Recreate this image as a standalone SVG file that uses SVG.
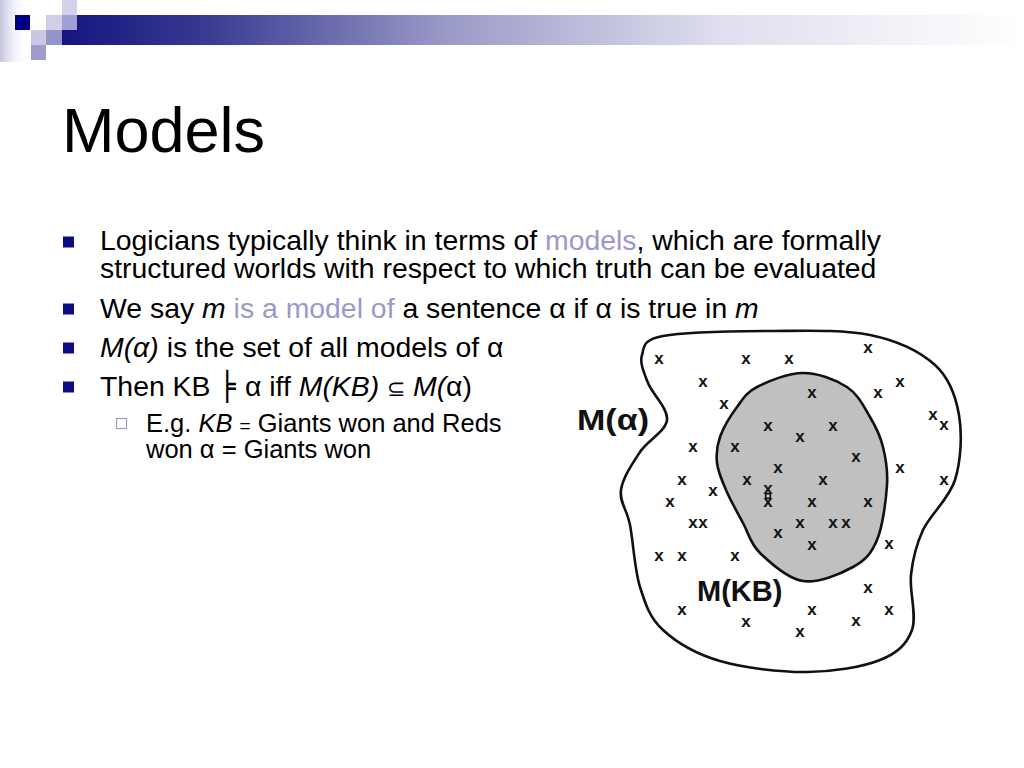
<svg xmlns="http://www.w3.org/2000/svg" width="1024" height="768" viewBox="0 0 1024 768">
<defs>
<linearGradient id="barG" x1="62" y1="0" x2="1024" y2="0" gradientUnits="userSpaceOnUse">
<stop offset="0" stop-color="#14147e"/>
<stop offset="0.15" stop-color="#3a3a92"/>
<stop offset="0.4" stop-color="#9a9ac8"/>
<stop offset="0.68" stop-color="#dedeee"/>
<stop offset="1" stop-color="#ffffff"/>
</linearGradient>
<linearGradient id="stripG" x1="0" y1="0" x2="1" y2="0">
<stop offset="0" stop-color="#c4c4e2"/>
<stop offset="1" stop-color="#ffffff" stop-opacity="0"/>
</linearGradient>
<style>
.t{font-family:"Liberation Sans",Arial,sans-serif;fill:#000}
.b{font-size:28.4px}
.s{font-size:25.5px}
.hl{fill:#9999cc}
.i{font-style:italic}
.bul{fill:#0c0c80}
.xm text{font-family:"Liberation Sans",Arial,sans-serif;font-weight:bold;font-size:17px;fill:#111;text-anchor:middle}
.lbl{font-family:"Liberation Sans",Arial,sans-serif;font-weight:bold;font-size:29px;fill:#111}
.set{stroke:#111;stroke-width:2.6;stroke-linejoin:round}
</style>
</defs>
<rect width="1024" height="768" fill="#fff"/>
<g id="decoration">
<rect x="0" y="0" width="28" height="62" fill="url(#stripG)"/>
<rect x="62" y="15" width="962" height="30" fill="url(#barG)"/>
<rect x="62" y="0" width="15" height="15" fill="#d2d2ea"/>
<rect x="15" y="15" width="15" height="15" fill="#000080"/>
<rect x="46" y="15" width="16" height="15" fill="#cfcfe7"/>
<rect x="62" y="15" width="15" height="15" fill="#a0a0d2"/>
<rect x="31" y="30" width="15" height="15" fill="#c8c8e4"/>
<rect x="46" y="30" width="16" height="15" fill="#9494c8"/>
<rect x="31" y="45" width="15" height="15" fill="#9c9cce"/>
</g>
<g id="title">
<text class="t" x="62" y="152" font-size="63">Models</text>
</g>
<g id="bullets">
<rect class="bul" x="63" y="236.5" width="11" height="11"/>
<rect class="bul" x="63" y="303.5" width="11" height="11"/>
<rect class="bul" x="63" y="342.5" width="11" height="11"/>
<rect class="bul" x="63" y="381.5" width="11" height="11"/>
<rect x="116.5" y="418.5" width="10" height="10" fill="none" stroke="#9c9ccc" stroke-width="1.2"/>
<text class="t b" x="100" y="250">Logicians typically think in terms of <tspan class="hl">models</tspan>, which are formally<tspan x="100" y="278">structured worlds with respect to which truth can be evaluated</tspan></text>
<text class="t b" x="100" y="318">We say <tspan class="i">m</tspan><tspan class="hl"> is a model of</tspan> a sentence α if α is true in <tspan class="i">m</tspan></text>
<text class="t b" x="100" y="357"><tspan class="i">M(α)</tspan> is the set of all models of α</text>
<text class="t b" x="100" y="396">Then KB <tspan x="219" font-family="DejaVu Sans Mono,monospace" font-size="28">╞</tspan><tspan x="245">α iff </tspan><tspan class="i">M(KB)</tspan> <tspan font-size="22">⊆</tspan> <tspan class="i">M(</tspan>α)</text>
<text class="t s" x="146" y="432">E.g. <tspan class="i">KB</tspan> <tspan font-size="19">=</tspan> Giants won and Reds<tspan x="146" y="458">won α = Giants won</tspan></text>
</g>
<g id="diagram">
<g id="set-alpha">
<path class="set" fill="#fff" d="M 663,336 C 684.3,332 735.5,331.2 770,331 C 804.5,330.8 842.5,329.3 870,335 C 897.5,340.7 920.2,351.7 935,365 C 949.8,378.3 955.7,395.8 959,415 C 962.3,434.2 961,460.8 955,480 C 949,499.2 930.3,514.2 923,530 C 915.7,545.8 912.8,558.3 911,575 C 909.2,591.7 917.2,615.8 912,630 C 906.8,644.2 897.5,653 880,660 C 862.5,667 833.7,671.8 807,672 C 780.3,672.2 744,668 720,661 C 696,654 676.3,642.3 663,630 C 649.7,617.7 645.5,604.5 640,587 C 634.5,569.5 633.2,541.2 630,525 C 626.8,508.8 619.3,502.2 621,490 C 622.7,477.8 632.3,463.7 640,452 C 647.7,440.3 665.7,431.5 667,420 C 668.3,408.5 652.2,393.8 648,383 C 643.8,372.2 639.5,362.8 642,355 C 644.5,347.2 641.7,340 663,336 Z"/>
<text class="lbl" x="577" y="430" textLength="72" lengthAdjust="spacingAndGlyphs">M(α)</text>
</g>
<g id="set-kb">
<path class="set" fill="#c0c0c0" d="M 803,373 C 818,373 835.8,379.7 847,387 C 858.2,394.3 864,407 870,417 C 876,427 880.2,435.7 883,447 C 885.8,458.3 888,469.5 887,485 C 886,500.5 882.7,526.3 877,540 C 871.3,553.7 865.3,560.2 853,567 C 840.7,573.8 818.5,583.3 803,581 C 787.5,578.7 770,562.7 760,553 C 750,543.3 748.7,533.5 743,523 C 737.3,512.5 730.3,500 726,490 C 721.7,480 718,471.8 717,463 C 716,454.2 716.7,446.3 720,437 C 723.3,427.7 730.8,415.3 737,407 C 743.2,398.7 746,392.7 757,387 C 768,381.3 788,373 803,373 Z"/>
<text class="lbl" x="697" y="601">M(KB)</text>
</g>
<g id="models" class="xm">
<text x="659" y="364">x</text><text x="746" y="364">x</text><text x="789" y="364">x</text><text x="868" y="353">x</text>
<text x="703" y="387">x</text><text x="812" y="398">x</text><text x="878" y="398">x</text><text x="900" y="387">x</text>
<text x="724" y="409">x</text><text x="933" y="420">x</text><text x="944" y="430">x</text>
<text x="768" y="431">x</text><text x="833" y="431">x</text><text x="800" y="442">x</text>
<text x="693" y="452">x</text><text x="735" y="452">x</text><text x="856" y="462">x</text>
<text x="778" y="473">x</text><text x="900" y="473">x</text>
<text x="682" y="485">x</text><text x="747" y="485">x</text><text x="823" y="485">x</text><text x="944" y="485">x</text>
<text x="713" y="496">x</text><text x="768" y="494">x<tspan x="768" y="507">x</tspan></text>
<text x="670" y="507">x</text><text x="812" y="507">x</text><text x="868" y="507">x</text>
<text x="693" y="528">x</text><text x="703" y="528">x</text><text x="800" y="528">x</text><text x="833" y="528">x</text><text x="846" y="528">x</text>
<text x="778" y="538">x</text><text x="812" y="550">x</text><text x="889" y="549">x</text>
<text x="659" y="561">x</text><text x="682" y="561">x</text><text x="735" y="561">x</text>
<text x="868" y="593">x</text>
<text x="682" y="615">x</text><text x="746" y="627">x</text><text x="812" y="615">x</text><text x="856" y="626">x</text><text x="889" y="615">x</text>
<text x="800" y="637">x</text>
<circle cx="768" cy="496" r="2.5" fill="none" stroke="#111" stroke-width="1.5"/>
</g>
</g>
</svg>
